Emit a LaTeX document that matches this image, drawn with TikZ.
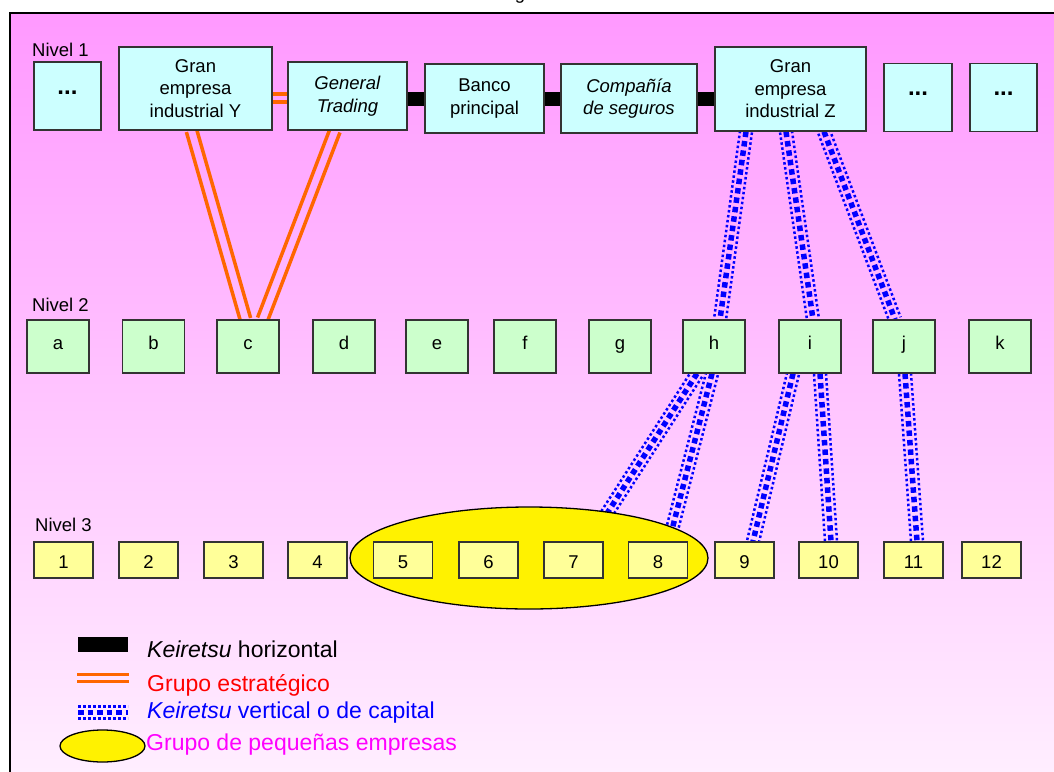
\documentclass[tikz,border=0pt]{standalone}
\usepackage{fontspec}
\setmainfont{Liberation Sans}
\usetikzlibrary{calc,shapes.geometric}

\definecolor{bgtop}{HTML}{FF99FF}
\definecolor{bgbot}{HTML}{FFF0FF}
\definecolor{cyanbox}{HTML}{CCFFFF}
\definecolor{greenbox}{HTML}{CCFFCC}
\definecolor{yellowbox}{HTML}{FFFF99}
\definecolor{stratcol}{HTML}{FF6600}
\definecolor{boxline}{HTML}{333333}
\definecolor{pinktext}{HTML}{FF00FF}

\pgfdeclarelayer{back}
\pgfsetlayers{back,main}

% vertical (capital) keiretsu link: a row of large squares between two dotted strands
\newcommand{\caplink}[2]{%
  \draw[capmid] (#1) -- (#2);
  \draw[capside] ($(#1)!6pt!90:(#2)$) -- ($(#2)!6pt!-90:(#1)$);
  \draw[capside] ($(#1)!6pt!-90:(#2)$) -- ($(#2)!6pt!90:(#1)$);
}
% strategic group link: two parallel orange strands
\newcommand{\stratlink}[2]{%
  \draw[stratline] ($(#1)!5.3pt!90:(#2)$) -- ($(#2)!5.3pt!-90:(#1)$);
  \draw[stratline] ($(#1)!5.3pt!-90:(#2)$) -- ($(#2)!5.3pt!90:(#1)$);
}

\tikzset{
  firm/.style={draw=boxline, line width=1.2pt, inner sep=0pt, align=center,
    font=\fontsize{18.5}{22.5}\selectfont},
  lone/.style={firm, fill=cyanbox},
  more/.style={lone, font=\fontsize{24}{24}\selectfont\bfseries, text height=0pt, text depth=4pt},
  ltwo/.style={firm, fill=greenbox, minimum width=62pt, minimum height=53pt,
    text height=11pt, text depth=6pt},
  lthree/.style={firm, fill=yellowbox, minimum width=59pt, minimum height=36pt,
    text height=16pt, text depth=0pt},
  levellabel/.style={anchor=base west, inner sep=0pt, font=\fontsize{18.5}{22.5}\selectfont},
  legendtext/.style={anchor=base west, inner sep=0pt, font=\fontsize{23}{27}\selectfont},
  capmid/.style={draw=blue, line width=5.5pt, dash pattern=on 5.5pt off 4pt},
  capside/.style={draw=blue, line width=2.5pt, dash pattern=on 2.5pt off 2.5pt},
  stratline/.style={draw=stratcol, line width=3.5pt},
  horizbar/.style={draw=black, line width=14pt},
}

\begin{document}
\begin{tikzpicture}[x=1pt,y=-1pt]
\useasboundingbox (0,0) rectangle (1054,771);

\begin{pgfonlayer}{back}
  \shade[top color=bgtop, bottom color=bgbot] (10,13) rectangle (1070,790);
  \draw[line width=1.5pt] (10,790) -- (10,13) -- (1070,13);
\end{pgfonlayer}

% title line, cut by the page edge
\node[anchor=base, inner sep=0pt, font=\fontsize{18.5}{22}\selectfont] (title) at (520,-1) {g};

% level labels
\node[levellabel] (n1) at (32,56) {Nivel 1};
\node[levellabel] (n2) at (32,311) {Nivel 2};
\node[levellabel] (n3) at (35,531) {Nivel 3};

% level 1
\node[more, minimum width=67pt, minimum height=68pt] (d1) at (67.5,96) {...};
\node[lone, minimum width=153pt, minimum height=83pt] (Y) at (195.5,88.5) {Gran\\empresa\\industrial Y};
\node[lone, minimum width=119pt, minimum height=68pt] (GT) at (347.5,96) {\textit{General}\\\textit{Trading}};
\node[lone, minimum width=119pt, minimum height=69pt] (BP) at (484.5,98.5) {Banco\\principal};
\node[lone, minimum width=136pt, minimum height=69pt] (CS) at (629,98.5) {\textit{Compañía}\\\textit{de seguros}};
\node[lone, minimum width=151pt, minimum height=84pt] (Z) at (790.5,89) {Gran\\empresa\\industrial Z};
\node[more, minimum width=68pt, minimum height=68pt] (d2) at (918,97.5) {...};
\node[more, minimum width=67pt, minimum height=68pt] (d3) at (1003.5,97.5) {...};

% level 2
\foreach \n/\x in {a/58,b/153.5,c/248,d/344,e/437,f/525,g/620,h/714,i/810,j/904,k/1000}
  \node[ltwo] (\n) at (\x,346.5) {\n};

% group of small firms, behind the level 3 boxes
\node[ellipse, draw=black, line width=1.3pt, fill=yellow, minimum width=358pt, minimum height=102pt,
      inner sep=0pt] (grp) at (529,558) {};

% level 3
\foreach \n/\x in {1/63.5,2/148.5,3/233.5,4/317.5,5/403,6/488.5,7/573.5,8/658,9/744.5,10/828.5,11/913.5,12/991.5}
  \node[lthree] (s\n) at (\x,560) {\n};

% connector end points
\coordinate (zh) at ([xshift=-44.5pt]Z.south);
\coordinate (zi) at ([xshift=-4.5pt]Z.south);
\coordinate (zj) at ([xshift=33.5pt]Z.south);
\coordinate (hz) at ([xshift=6pt]h.north);
\coordinate (iz) at ([xshift=3pt]i.north);
\coordinate (jz) at ([xshift=-9pt]j.north);
\coordinate (h7) at ([xshift=-17pt]h.south);
\coordinate (h8) at ([xshift=-2pt]h.south);
\coordinate (s7h) at ([xshift=15.5pt]s7.north);
\coordinate (s8h) at ([xshift=11pt]s8.north);
\coordinate (i9) at ([xshift=-17pt]i.south);
\coordinate (i10) at ([xshift=10pt]i.south);
\coordinate (s9i) at ([xshift=8.5pt]s9.north);
\coordinate (s10i) at ([xshift=2.5pt]s10.north);
\coordinate (j11) at ([xshift=1pt]j.south);
\coordinate (s11j) at ([xshift=3.5pt]s11.north);
\coordinate (yc) at ([xshift=-4pt]Y.south);
\coordinate (cy) at ([xshift=-2.5pt]c.north);
\coordinate (gc) at ([xshift=-12.5pt]GT.south);
\coordinate (cg) at ([xshift=14.5pt]c.north);
\coordinate (so1) at ([yshift=2pt]GT.west);
\coordinate (so2) at ([yshift=-6pt]GT.west);
\coordinate (hb1) at ([yshift=-3pt]GT.east);
\coordinate (hb2) at ([yshift=-0.5pt]BP.east);
\coordinate (hb3) at ([yshift=-0.5pt]CS.east);

\begin{pgfonlayer}{back}
  % horizontal keiretsu
  \draw[horizbar] (hb1) -- (hb1 -| BP.west);
  \draw[horizbar] (hb2) -- (hb2 -| CS.west);
  \draw[horizbar] (hb3) -- (hb3 -| Z.west);
  % strategic group
  \draw[stratline] (Y.east |- so1) -- (so1);
  \draw[stratline] (Y.east |- so2) -- (so2);
  \stratlink{yc}{cy}
  \stratlink{gc}{cg}
  % vertical keiretsu
  \caplink{zh}{hz}
  \caplink{zi}{iz}
  \caplink{zj}{jz}
  \caplink{h7}{s7h}
  \caplink{h8}{s8h}
  \caplink{i9}{s9i}
  \caplink{i10}{s10i}
  \caplink{j11}{s11j}
\end{pgfonlayer}

% legend
\coordinate (lg1a) at (78,644.5);
\coordinate (lg1b) at (128,644.5);
\draw[black, line width=15pt] (lg1a) -- (lg1b);
\coordinate (lg2a) at (77,674);
\coordinate (lg2b) at (129,674);
\coordinate (lg2c) at (77,681);
\coordinate (lg2d) at (129,681);
\draw[stratcol, line width=3pt] (lg2a) -- (lg2b);
\draw[stratcol, line width=3pt] (lg2c) -- (lg2d);
\coordinate (lg3a) at (78,712.5);
\coordinate (lg3b) at (128,712.5);
\caplink{lg3a}{lg3b}
\node[ellipse, draw=black, line width=1.3pt, fill=yellow, minimum width=85pt, minimum height=32pt,
      inner sep=0pt] (lg4) at (102.5,746) {};

\node[legendtext] (t1) at (147,657) {\textit{Keiretsu} horizontal};
\node[legendtext, text=red] (t2) at (147,691) {Grupo estratégico};
\node[legendtext, text=blue] (t3) at (147,718) {\textit{Keiretsu} vertical o de capital};
\node[legendtext, text=pinktext] (t4) at (146,750) {Grupo de pequeñas empresas};
\end{tikzpicture}
\end{document}
